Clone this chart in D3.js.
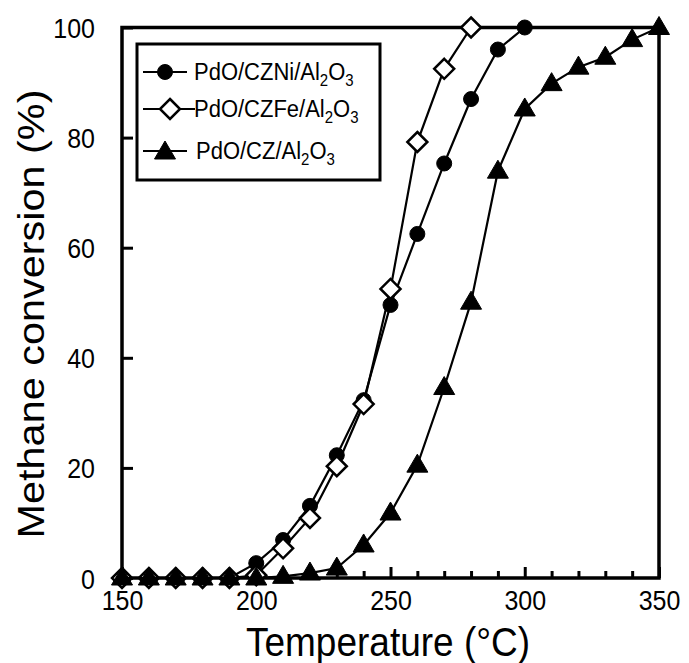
<!DOCTYPE html>
<html>
<head>
<meta charset="utf-8">
<script src="https://cdn.jsdelivr.net/npm/d3@7"></script>
<style>
  body { margin: 0; background: #fff; }
  svg { display: block; }
  text { font-family: "Liberation Sans", Arial, sans-serif; fill: #000; }
</style>
</head>
<body>
<svg id="chart" width="689" height="663"></svg>
<script>
const niTemps = [150,160,170,180,190,200,210,220,230,240,250,260,270,280,290,300];
const niValues = [0,0,0,0,0,2.7,6.9,13.1,22.3,32.3,49.6,62.5,75.3,87.0,96.0,100];
const feTemps = [150,160,170,180,190,200,210,220,230,240,250,260,270,280];
const feValues = [0,0,0,0,0,0.5,5.4,10.9,20.3,31.6,52.5,79.2,92.5,100];
const czTemps = [150,160,170,180,190,200,210,220,230,240,250,260,270,280,290,300,310,320,330,340,350];
const czValues = [0,0,0,0,0,0,0.3,0.9,1.8,6.0,11.8,20.5,34.6,50.1,73.9,85.2,89.8,92.8,94.6,97.8,100];
const xTicks = [150,200,250,300,350];
const xMinorTicks = [160,170,180,190,210,220,230,240,260,270,280,290,310,320,330,340];
const yTicks = [0,20,40,60,80,100];
const seriesNames = ["PdO/CZNi/Al", "PdO/CZFe/Al", "PdO/CZ/Al"];
const xTitle = "Temperature (°C)";
const yTitle = "Methane conversion (%)";

const svg = d3.select("#chart");
const x = d3.scaleLinear().domain([150,350]).range([122,659]);
const y = d3.scaleLinear().domain([0,100]).range([578,27.5]);
const SY = 1.12;
const FONT = '"Liberation Sans", Arial, sans-serif';

// x minor ticks (inward)
const gm = svg.append("g").attr("transform",`translate(0,${y(0)})`)
  .call(d3.axisBottom(x).tickValues(xMinorTicks).tickSize(-7).tickFormat(""));
gm.select(".domain").remove();
gm.selectAll(".tick line").attr("stroke","#000").attr("stroke-width",3);

// x major axis
const gx = svg.append("g").attr("transform",`translate(0,${y(0)})`)
  .call(d3.axisBottom(x).tickValues(xTicks).tickSize(-11).tickFormat(d3.format("d")));
gx.select(".domain").remove();
gx.selectAll(".tick line").attr("stroke","#000").attr("stroke-width",3);
gx.selectAll("text").attr("y",null).attr("dy",null)
  .attr("transform",`translate(0,32) scale(1,${SY})`)
  .attr("font-size",25).style("font-family",FONT);

// y axis
const gy = svg.append("g").attr("transform",`translate(${x(150)},0)`)
  .call(d3.axisLeft(y).tickValues(yTicks).tickSize(-11).tickFormat(d3.format("d")));
gy.select(".domain").remove();
gy.selectAll(".tick line").attr("stroke","#000").attr("stroke-width",3);
gy.selectAll("text").attr("x",null).attr("dy",null).attr("text-anchor","end")
  .attr("transform",`translate(-27,10) scale(1,${SY})`)
  .attr("font-size",25).style("font-family",FONT);

// frame
svg.append("path")
  .attr("d", `M${x(150)},${y(0)}H${x(350)}V${y(100)}H${x(150)}Z`)
  .attr("fill","none").attr("stroke","#000").attr("stroke-width",3.5);

// axis titles
svg.append("text").attr("text-anchor","middle").attr("font-size",37)
  .attr("transform",`translate(388,656) scale(1,${SY})`).text(xTitle);
svg.append("text").attr("text-anchor","middle").attr("font-size",37)
  .attr("transform",`translate(44,314) rotate(-90) scale(${SY},1)`).text(yTitle);

const line = d3.line().x(d => x(d[0])).y(d => y(d[1]));
const circle = d3.symbol().type(d3.symbolCircle).size(Math.PI*7.5*7.5);
const diamond = "M0,-10L10,0L0,10L-10,0Z";
const tri = "M0,-11L10.5,7L-10.5,7Z";

function drawSeries(temps, vals, marker) {
  const data = temps.map((t,i)=>[t, vals[i]]);
  svg.append("path").datum(data).attr("d", line)
    .attr("fill","none").attr("stroke","#000").attr("stroke-width",2.2);
  const g = svg.append("g");
  data.forEach(d => {
    const m = g.append("path").attr("transform",`translate(${x(d[0])},${y(d[1])})`);
    marker(m);
  });
}
const mkCircle = m => m.attr("d", circle()).attr("fill","#000").attr("stroke","#000").attr("stroke-width",1);
const mkDiamond = m => m.attr("d", diamond).attr("fill","#fff").attr("stroke","#000").attr("stroke-width",2.5);
const mkTri = m => m.attr("d", tri).attr("fill","#000").attr("stroke","#000").attr("stroke-width",1);

drawSeries(niTemps, niValues, mkCircle);
drawSeries(feTemps, feValues, mkDiamond);
drawSeries(czTemps, czValues, mkTri);

// legend
svg.append("rect").attr("x",137).attr("y",44).attr("width",380-137).attr("height",180-44)
  .attr("fill","#fff").attr("stroke","#000").attr("stroke-width",3);
const rows = [
  {y:72, mk:mkCircle, mx:165, x2:187, tx:194},
  {y:109, mk:mkDiamond, mx:170, x2:195, tx:194},
  {y:151, mk:mkTri, mx:165, x2:187, tx:196}
];
rows.forEach((r,i) => {
  svg.append("line").attr("x1",143).attr("x2",r.x2).attr("y1",r.y).attr("y2",r.y)
    .attr("stroke","#000").attr("stroke-width",2.2);
  r.mk(svg.append("path").attr("transform",`translate(${r.mx},${r.y + (i===2?1:0)})`));
  const t = svg.append("text").attr("font-size",22)
    .attr("transform",`translate(${r.tx},${r.y+8}) scale(1,${SY})`);
  t.append("tspan").text(seriesNames[i]);
  t.append("tspan").attr("font-size",15).attr("dy",5).text("2");
  t.append("tspan").attr("dy",-5).text("O");
  t.append("tspan").attr("font-size",15).attr("dy",5).text("3");
});
</script>
</body>
</html>
